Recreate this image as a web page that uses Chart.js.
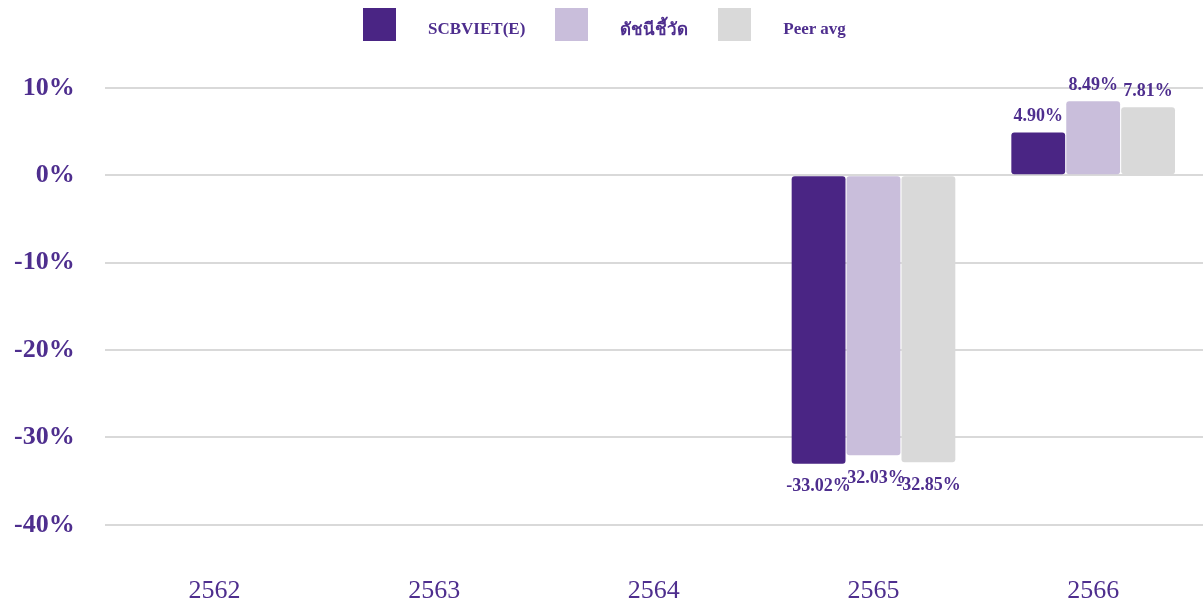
<!DOCTYPE html>
<html>
<head>
    <meta charset="UTF-8">
    <title>SCBVIET(E) returns</title>
    <script src="https://cdn.jsdelivr.net/npm/chart.js"></script>
    <style>
        html, body {
            margin: 0;
            padding: 0;
            background: #ffffff;
        }
        .wrap {
            position: relative;
            width: 1203px;
            height: 605px;
        }
        .legend {
            position: absolute;
            top: 8px;
            left: 363px;
            display: flex;
            align-items: center;
            font-family: 'Liberation Serif', serif;
            font-weight: bold;
            font-size: 17px;
            color: #4e2e8e;
        }
        .legend .box {
            width: 33px;
            height: 33px;
            margin-right: 32px;
        }
        .legend .item {
            display: flex;
            align-items: center;
            margin-right: 30px;
        }
        .legend span {
            position: relative;
            top: 4px;
        }
    </style>
</head>
<body>
<div class="wrap">
    <canvas id="returnChart" width="1203" height="605"></canvas>
    <div class="legend" id="legend"></div>
</div>

<script>
    const years = ['2562', '2563', '2564', '2565', '2566'];
    const fundReturn = [null, null, null, -33.02, 4.90];
    const benchmarkReturn = [null, null, null, -32.03, 8.49];
    const peerAvg = [null, null, null, -32.85, 7.81];
    const yTicks = [10, 0, -10, -20, -30, -40];

    const textColor = '#4e2e8e';
    const series = [
        { label: 'SCBVIET(E)', data: fundReturn, color: '#4a2584' },
        { label: 'ดัชนีชี้วัด', data: benchmarkReturn, color: '#c9bedb' },
        { label: 'Peer avg', data: peerAvg, color: '#d9d9d9' }
    ];

    // legend in html so the spacing matches the report
    const legend = document.getElementById('legend');
    series.forEach(s => {
        legend.innerHTML += `<div class="item"><div class="box" style="background:${s.color}"></div><span>${s.label}</span></div>`;
    });

    const valueLabels = {
        id: 'valueLabels',
        afterDatasetsDraw(chart) {
            const ctx = chart.ctx;
            ctx.save();
            ctx.font = 'bold 18px "Liberation Serif", serif';
            ctx.fillStyle = textColor;
            ctx.textAlign = 'center';
            chart.data.datasets.forEach((ds, i) => {
                chart.getDatasetMeta(i).data.forEach((bar, j) => {
                    const v = ds.data[j];
                    if (v === null) return;
                    const txt = v.toFixed(2) + '%';
                    if (v >= 0) {
                        ctx.textBaseline = 'bottom';
                        ctx.fillText(txt, bar.x, bar.y - 7);
                    } else {
                        ctx.textBaseline = 'top';
                        ctx.fillText(txt, bar.x, bar.y + 14);
                    }
                });
            });
            ctx.restore();
        }
    };

    const ctx = document.getElementById('returnChart').getContext('2d');
    new Chart(ctx, {
        type: 'bar',
        data: {
            labels: years,
            datasets: series.map(s => ({
                label: s.label,
                data: s.data,
                backgroundColor: s.color,
                borderRadius: 3,
                borderSkipped: false,
                categoryPercentage: 0.75,
                barPercentage: 0.98
            }))
        },
        options: {
            responsive: false,
            animation: false,
            layout: { padding: { top: 88, right: 0, bottom: -53, left: -16 } },
            plugins: {
                legend: { display: false },
                tooltip: { enabled: false }
            },
            scales: {
                y: {
                    min: -40,
                    max: 10,
                    afterBuildTicks: axis => { axis.ticks = yTicks.map(v => ({ value: v })); },
                    grid: { color: '#d9d9d9', lineWidth: 2, drawTicks: false },
                    border: { display: false },
                    ticks: {
                        padding: 30,
                        color: textColor,
                        font: { family: 'Liberation Serif', weight: 'bold', size: 26 },
                        callback: v => v + '%'
                    }
                },
                x: {
                    grid: { display: false, drawTicks: false },
                    border: { display: false },
                    ticks: {
                        padding: 51,
                        color: textColor,
                        font: { family: 'Liberation Serif', size: 26 }
                    }
                }
            }
        },
        plugins: [valueLabels]
    });
</script>
</body>
</html>
